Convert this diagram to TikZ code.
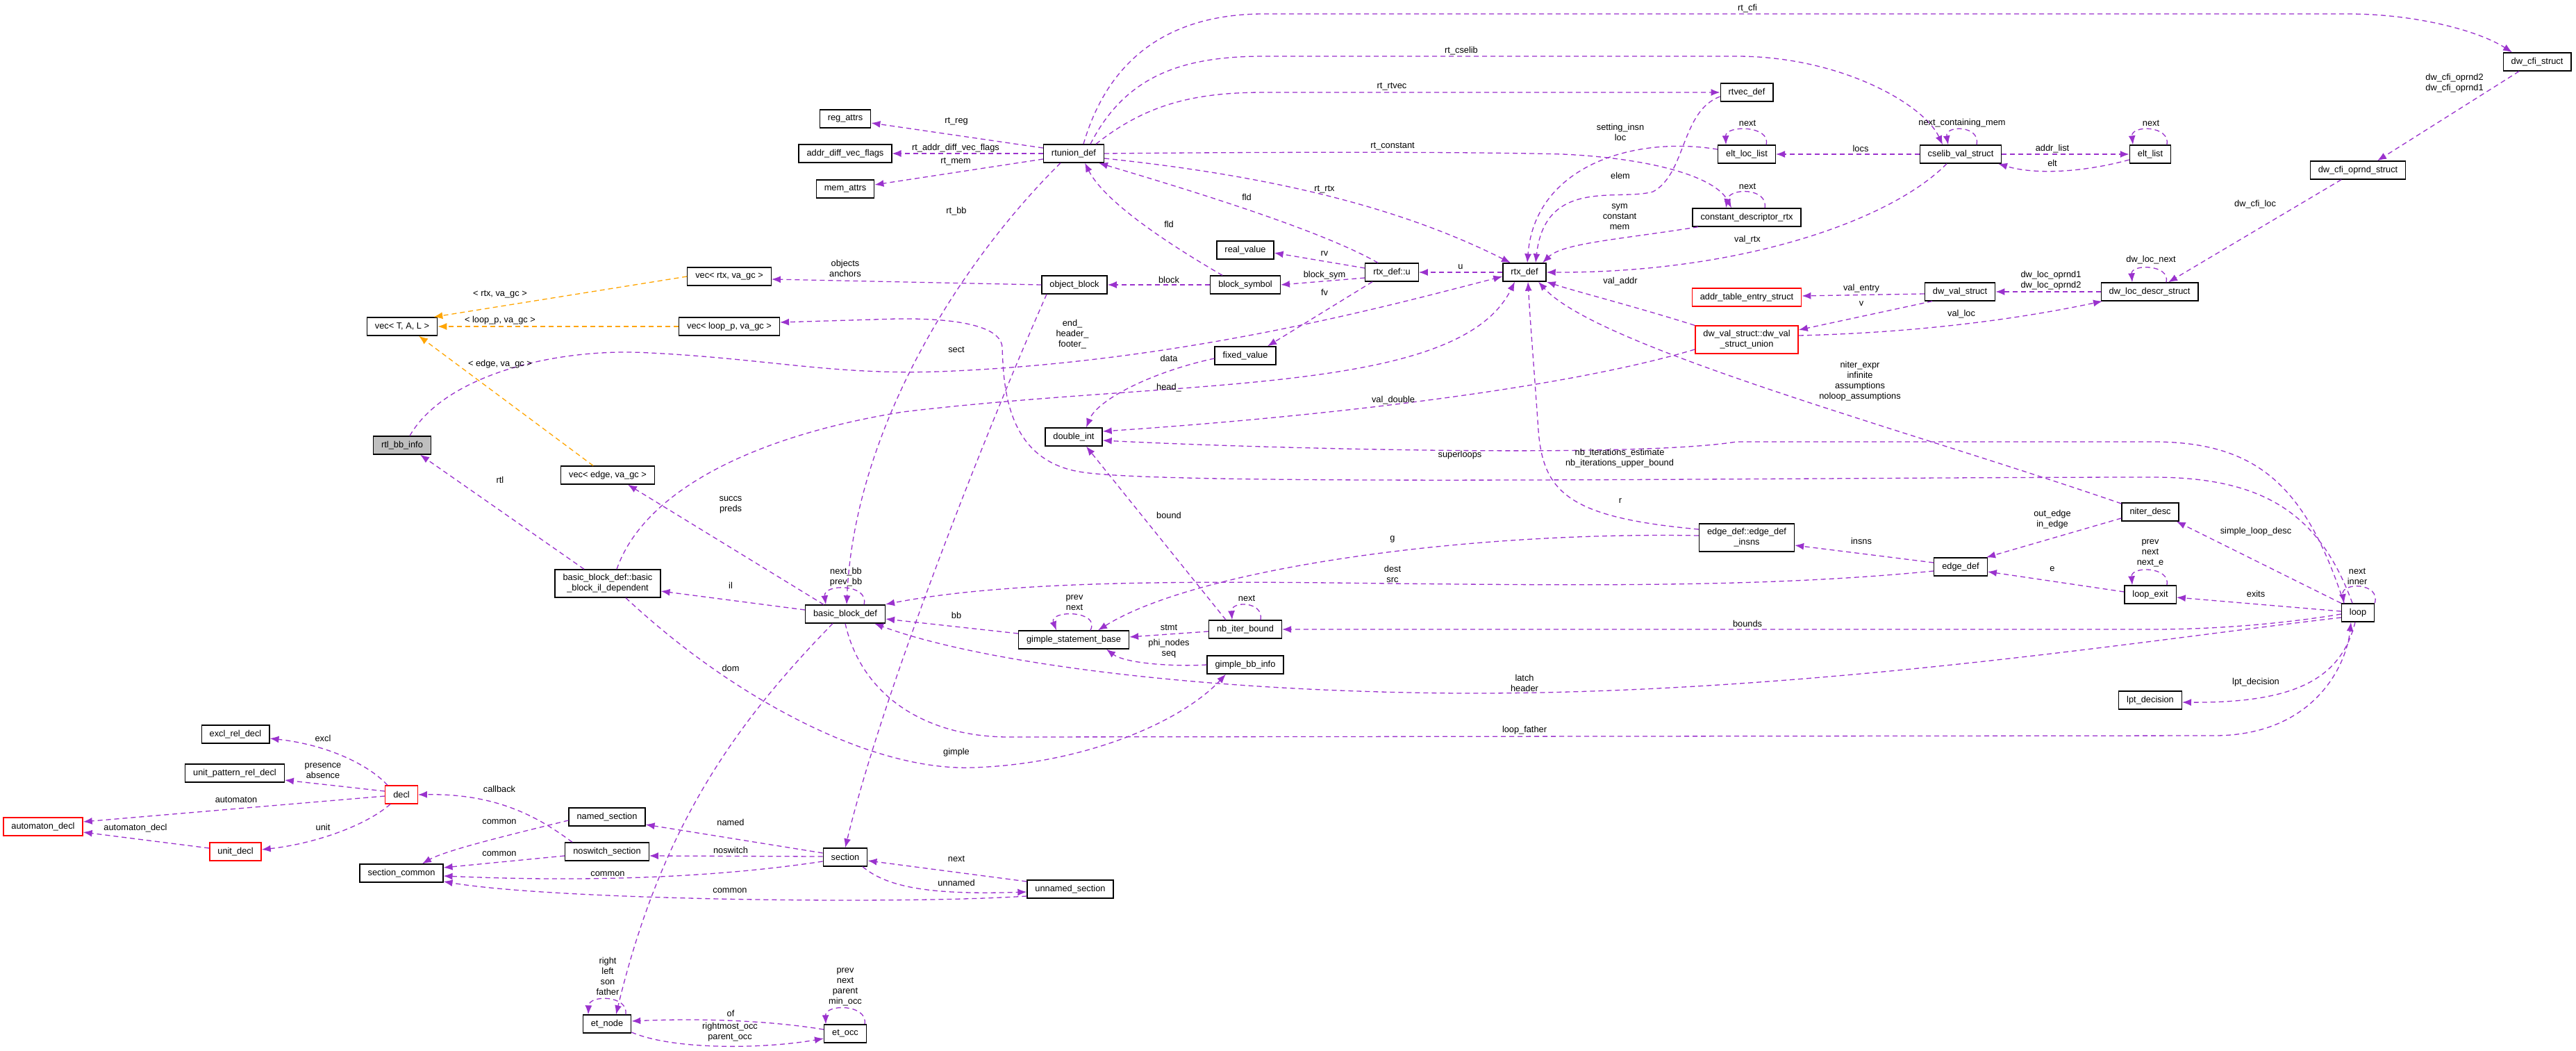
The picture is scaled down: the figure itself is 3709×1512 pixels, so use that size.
\documentclass[tikz,border=0pt]{standalone}
\usepackage{fontspec}
\setmainfont{Liberation Sans}
\usepackage{tikz}
\usetikzlibrary{arrows.meta}
\definecolor{linkpurple}{HTML}{9A32CD}
\definecolor{tmplorange}{HTML}{FFA500}
\definecolor{docred}{HTML}{FF0000}
\definecolor{docgray}{HTML}{BFBFBF}

\begin{document}
\begin{tikzpicture}[
x=1pt, y=-1pt,
box/.style={draw=black, line width=1.3pt, fill=white, minimum height=26pt, inner xsep=11.5pt, inner ysep=2pt, align=center, font=\fontsize{12.8}{15}\selectfont},
redbox/.style={box, draw=docred},
lbl/.style={inner sep=0pt, align=center, font=\fontsize{12.8}{15}\selectfont},
link/.style={-{Latex[length=13pt,width=10pt]}, line width=1.3pt, linkpurple, dash pattern=on 7pt off 5pt},
tmpl/.style={link, tmplorange}
]
\fill[white] (0,0) rectangle (3709,1512);
\useasboundingbox (0,0) rectangle (3709,1512);

\node[redbox] (autodecl) at (62,1190) {automaton\_decl};
\node[box] (exclrel) at (339,1057) {excl\_rel\_decl};
\node[box] (unitpat) at (338,1113) {unit\_pattern\_rel\_decl};
\node[redbox] (unitdecl) at (339,1226) {unit\_decl};
\node[redbox] (decl) at (578,1144) {decl};
\node[box] (seccommon) at (578,1257) {section\_common};
\node[box] (vectal) at (579,470) {vec< T, A, L >};
\node[box, fill=docgray] (rtlbb) at (579,641) {rtl\_bb\_info};
\node[box] (vecedge) at (875,684) {vec< edge, va\_gc >};
\node[box, minimum height=40pt] (bbil) at (875,840) {basic\_block\_def::basic\\\_block\_il\_dependent};
\node[box] (namedsec) at (874,1176) {named\_section};
\node[box] (noswitch) at (874,1226) {noswitch\_section};
\node[box] (etnode) at (874,1474) {et\_node};
\node[box] (vecrtx) at (1050,398) {vec< rtx, va\_gc >};
\node[box] (veclp) at (1050,470) {vec< loop\_p, va\_gc >};
\node[box] (regattrs) at (1217,171) {reg\_attrs};
\node[box] (addrdiff) at (1217,221) {addr\_diff\_vec\_flags};
\node[box] (memattrs) at (1217,272) {mem\_attrs};
\node[box] (bbdef) at (1217,884) {basic\_block\_def};
\node[box] (section) at (1217,1234) {section};
\node[box] (etocc) at (1217,1488) {et\_occ};
\node[box] (rtunion) at (1546,221) {rtunion\_def};
\node[box] (objblock) at (1547,410) {object\_block};
\node[box] (doubleint) at (1546,629) {double\_int};
\node[box] (gsbase) at (1546,921) {gimple\_statement\_base};
\node[box] (unnamed) at (1541,1280) {unnamed\_section};
\node[box] (realval) at (1793,360) {real\_value};
\node[box] (blocksym) at (1793,410) {block\_symbol};
\node[box] (fixedval) at (1793,512) {fixed\_value};
\node[box] (nbiter) at (1793,906) {nb\_iter\_bound};
\node[box] (gbbinfo) at (1793,957) {gimple\_bb\_info};
\node[box] (rtxu) at (2004,392) {rtx\_def::u};
\node[box] (rtxdef) at (2195,392) {rtx\_def};
\node[box] (rtvec) at (2515,133) {rtvec\_def};
\node[box] (eltloc) at (2515,222) {elt\_loc\_list};
\node[box] (constdesc) at (2515,313) {constant\_descriptor\_rtx};
\node[redbox] (addrtab) at (2515,428) {addr\_table\_entry\_struct};
\node[redbox, minimum height=40pt] (dwunion) at (2515,489) {dw\_val\_struct::dw\_val\\\_struct\_union};
\node[box, minimum height=40pt] (edgeinsns) at (2515,774) {edge\_def::edge\_def\\\_insns};
\node[box] (cselib) at (2823,222) {cselib\_val\_struct};
\node[box] (dwval) at (2822,420) {dw\_val\_struct};
\node[box] (edgedef) at (2823,816) {edge\_def};
\node[box] (eltlist) at (3096,222) {elt\_list};
\node[box] (dwloc) at (3095,420) {dw\_loc\_descr\_struct};
\node[box] (niter) at (3096,737) {niter\_desc};
\node[box] (loopexit) at (3096,856) {loop\_exit};
\node[box] (lpt) at (3096,1008) {lpt\_decision};
\node[box] (oprnd) at (3395,245) {dw\_cfi\_oprnd\_struct};
\node[box] (loop) at (3395,882) {loop};
\node[box] (cfi) at (3653,89) {dw\_cfi\_struct};

\draw[link] ([yshift=8pt]rtunion.west) -- ([yshift=-6pt]regattrs.east);
\draw[link] (rtunion.west) -- (addrdiff.east);
\draw[link] ([yshift=-8pt]rtunion.west) -- ([yshift=6pt]memattrs.east);
\draw[link] ([xshift=14pt]rtunion.north) .. controls (1600,70) and (1700,20) .. (1820,20) -- (3380,20) .. controls (3480,20) and (3570,45) .. ([xshift=-36pt]cfi.north);
\draw[link] ([xshift=24pt]rtunion.north) .. controls (1620,110) and (1700,81) .. (1820,81) -- (2500,81) .. controls (2650,81) and (2770,150) .. ([xshift=-26pt]cselib.north);
\draw[link] ([xshift=32pt]rtunion.north) .. controls (1650,150) and (1720,133) .. (1820,133) -- (rtvec.west);
\draw[link] (rtunion.east) .. controls (1800,219) and (2100,218) .. (2250,222) .. controls (2380,228) and (2470,255) .. ([xshift=-22pt]constdesc.north);
\draw[link] ([yshift=-7pt]rtunion.east) .. controls (1800,250) and (2000,290) .. ([xshift=-20pt]rtxdef.north);
\draw[link] ([xshift=-20pt]rtxu.north) .. controls (1900,330) and (1700,270) .. ([xshift=36pt]rtunion.south);
\draw[link] ([xshift=-33pt]blocksym.north) .. controls (1680,350) and (1590,290) .. ([xshift=16pt]rtunion.south);
\draw[link] ([xshift=-19pt]rtunion.south) .. controls (1380,380) and (1230,620) .. ([xshift=2pt]bbdef.north);
\draw[link] (rtxdef.west) -- (rtxu.east);
\draw[link] ([yshift=6pt]rtxu.west) -- ([yshift=-4pt]realval.east);
\draw[link] ([yshift=-8pt]rtxu.west) -- (blocksym.east);
\draw[link] ([xshift=-28pt]rtxu.south) -- ([xshift=32pt]fixedval.north);
\draw[link] (blocksym.west) -- (objblock.east);
\draw[link] (objblock.west) -- ([yshift=-4pt]vecrtx.east);
\draw[link] ([xshift=-40pt]objblock.south) .. controls (1420,620) and (1270,1000) .. (section.north);
\draw[tmpl] (vecrtx.west) -- ([xshift=-6pt]vectal.north east);
\draw[tmpl] (veclp.west) -- (vectal.east);
\draw[tmpl] ([xshift=-21pt]vecedge.north) -- ([xshift=24pt]vectal.south);

\draw[link] ([xshift=-8pt]loop.north) .. controls (3340,740) and (3260,687) .. (3100,687) .. controls (2600,687) and (1700,700) .. (1560,680) .. controls (1450,665) and (1445,560) .. (1443,500) .. controls (1441,465) and (1360,458) .. (1290,459) -- ([yshift=6pt]veclp.east);
\draw[link] ([xshift=-20pt]loop.north) .. controls (3320,700) and (3250,636) .. (3100,636) -- (2500,636) .. controls (2350,660) and (1800,645) .. ([yshift=-5pt]doubleint.east);
\draw[link] ([yshift=-14pt]dwunion.west) .. controls (2250,560) and (1900,600) .. ([yshift=8pt]doubleint.east);
\draw[link] ([yshift=-4pt]fixedval.west) .. controls (1660,535) and (1580,575) .. ([xshift=18pt]doubleint.north);
\draw[link] ([xshift=-28pt]nbiter.north) -- ([xshift=18pt]doubleint.south);
\draw[link] ([xshift=22pt]nbiter.north) .. controls (1820,865) and (1772,865) .. ([xshift=-19pt]nbiter.north);
\draw[link] ([yshift=-3pt]nbiter.west) -- ([yshift=4pt]gsbase.east);
\draw[link] (gbbinfo.west) .. controls (1690,960) and (1620,955) .. ([xshift=47pt]gsbase.south);
\draw[link] ([xshift=24pt]gsbase.north) .. controls (1585,878) and (1510,878) .. ([xshift=-25pt]gsbase.north);
\draw[link] ([yshift=3pt]edgeinsns.west) .. controls (2100,765) and (1720,820) .. ([xshift=35pt]gsbase.north);
\draw[link] ([yshift=-6pt]edgedef.west) .. controls (2550,845) and (2300,843) .. (2000,840) .. controls (1700,836) and (1450,836) .. ([yshift=14pt]bbdef.east);
\draw[link] ([yshift=9pt]gsbase.west) -- ([yshift=-7pt]bbdef.east);
\draw[link] ([yshift=-7pt]loop.west) .. controls (3100,920) and (2600,1000) .. (2100,998) .. controls (1700,995) and (1400,950) .. ([xshift=42pt]bbdef.south);
\draw[link] ([yshift=-2pt]loop.west) .. controls (3300,896) and (3200,906) .. (3100,906) -- (nbiter.east);
\draw[link] (bbdef.south) .. controls (1240,1000) and (1330,1060) .. (1450,1061) -- (3190,1059) .. controls (3330,1058) and (3378,960) .. ([xshift=-10pt]loop.south);
\draw[link] ([xshift=-4pt]loop.south) .. controls (3370,980) and (3300,1012) .. ([yshift=-3pt]lpt.east);
\draw[link] ([yshift=2pt]loop.west) -- ([yshift=-4pt]loopexit.east);
\draw[link] (loop.north west) -- ([xshift=-4pt]niter.south east);
\draw[link] (loop.north east) .. controls (3428,838) and (3370,838) .. ([xshift=-20pt]loop.north);
\draw[link] ([xshift=24pt]loopexit.north) .. controls (3125,815) and (3068,815) .. ([xshift=-26pt]loopexit.north);
\draw[link] ([yshift=-9pt]niter.west) -- ([xshift=37pt]edgedef.north);
\draw[link] ([yshift=12pt]niter.west) .. controls (2750,620) and (2300,500) .. ([xshift=20pt]rtxdef.south);
\draw[link] ([yshift=6pt]edgedef.west) -- ([yshift=-11pt]edgeinsns.east);
\draw[link] ([yshift=4pt]loopexit.west) -- ([yshift=-7pt]edgedef.east);
\draw[link] ([yshift=12pt]edgeinsns.west) .. controls (2260,745) and (2222,710) .. (2215,620) .. controls (2208,520) and (2203,460) .. ([xshift=5pt]rtxdef.south);

\draw[link] ([xshift=11pt]rtlbb.north) .. controls (640,540) and (800,500) .. (935,508) .. controls (1100,516) and (1200,540) .. (1350,535) .. controls (1700,522) and (2000,440) .. ([yshift=-6pt]rtxdef.west);
\draw[link] ([xshift=13pt]bbil.north) .. controls (930,700) and (1100,625) .. (1300,593) .. controls (1700,545) and (2100,570) .. ([xshift=-14pt]rtxdef.south);
\draw[link] ([xshift=-34pt]bbil.north) -- ([xshift=26pt]rtlbb.south);
\draw[link] ([yshift=6pt]bbdef.west) -- ([yshift=-11pt]bbil.east);
\draw[link] ([xshift=-31pt]bbdef.north) -- ([xshift=29pt]vecedge.south);
\draw[link] ([xshift=27pt]bbdef.north) .. controls (1252,840) and (1185,840) .. ([xshift=-28pt]bbdef.north);
\draw[link] ([xshift=-18pt]bbdef.south) .. controls (1050,1050) and (950,1200) .. ([xshift=13pt]etnode.north);
\draw[link] ([xshift=26pt]bbil.south) .. controls (1050,1000) and (1250,1110) .. (1400,1105) .. controls (1560,1100) and (1700,1040) .. ([xshift=-28pt]gbbinfo.south);

\draw[link] ([xshift=-20pt]cselib.south) .. controls (2720,320) and (2500,393) .. (rtxdef.east);
\draw[link] ([xshift=-70pt]constdesc.south) .. controls (2330,345) and (2250,350) .. ([xshift=26pt]rtxdef.north);
\draw[link] ([xshift=26pt]constdesc.north) .. controls (2546,270) and (2490,270) .. ([xshift=-30pt]constdesc.north);
\draw[link] ([yshift=-6pt]rtvec.west) .. controls (2420,160) and (2428,250) .. (2380,276) .. controls (2330,290) and (2225,255) .. ([xshift=16pt]rtxdef.north);
\draw[link] ([yshift=7pt]eltloc.west) .. controls (2350,195) and (2210,240) .. ([xshift=4pt]rtxdef.north);
\draw[link] ([xshift=28pt]eltloc.north) .. controls (2550,180) and (2484,180) .. ([xshift=-30pt]eltloc.north);
\draw[link] (cselib.west) -- (eltloc.east);
\draw[link] ([xshift=23pt]cselib.north) .. controls (2852,180) and (2800,180) .. ([xshift=-18pt]cselib.north);
\draw[link] (cselib.east) -- (eltlist.west);
\draw[link] ([yshift=-8pt]eltlist.west) .. controls (3000,248) and (2930,252) .. ([xshift=54pt]cselib.south);
\draw[link] ([xshift=24pt]eltlist.north) .. controls (3125,180) and (3068,180) .. ([xshift=-25pt]eltlist.north);
\draw[link] ([xshift=-75pt]dwunion.north) .. controls (2350,440) and (2270,420) .. (rtxdef.south east);
\draw[link] ([yshift=-3pt]dwval.west) -- ([yshift=2pt]addrtab.east);
\draw[link] ([xshift=-40pt]dwval.south) -- ([yshift=14pt]dwunion.east);
\draw[link] ([yshift=6pt]dwunion.east) .. controls (2800,478) and (2950,450) .. ([xshift=-68pt]dwloc.south);
\draw[link] (dwloc.west) -- (dwval.east);
\draw[link] ([xshift=24pt]dwloc.north) .. controls (3125,380) and (3068,380) .. ([xshift=-25pt]dwloc.north);
\draw[link] ([xshift=-24pt]oprnd.south) -- ([xshift=27pt]dwloc.north);
\draw[link] ([xshift=-26pt]cfi.south) -- ([xshift=28pt]oprnd.north);

\draw[link] ([xshift=-20pt]decl.north) .. controls (530,1100) and (470,1072) .. ([yshift=-6pt]exclrel.east);
\draw[link] ([yshift=5pt]decl.west) -- ([yshift=-10pt]unitpat.east);
\draw[link] ([yshift=-2pt]decl.west) -- ([yshift=7pt]autodecl.east);
\draw[link] ([xshift=-16pt]decl.south) .. controls (525,1190) and (450,1215) .. ([yshift=3pt]unitdecl.east);
\draw[link] ([yshift=5pt]unitdecl.west) -- ([yshift=-8pt]autodecl.east);
\draw[link] ([xshift=-50pt]noswitch.north) .. controls (780,1180) and (720,1142) .. (decl.east);
\draw[link] ([yshift=-5pt]namedsec.west) .. controls (720,1205) and (640,1225) .. ([xshift=30pt]seccommon.north);
\draw[link] ([yshift=-6pt]noswitch.west) -- ([yshift=8pt]seccommon.east);
\draw[link] ([yshift=-6pt]section.west) .. controls (1000,1268) and (800,1268) .. ([yshift=-4pt]seccommon.east);
\draw[link] ([yshift=-10pt]unnamed.west) .. controls (1300,1302) and (800,1296) .. ([yshift=-12pt]seccommon.east);
\draw[link] ([yshift=6pt]section.west) -- ([yshift=-11pt]namedsec.east);
\draw[link] ([yshift=1pt]section.west) -- ([yshift=-6pt]noswitch.east);
\draw[link] ([yshift=11pt]unnamed.west) -- ([yshift=-5pt]section.east);
\draw[link] ([xshift=25pt]section.south) .. controls (1280,1280) and (1350,1288) .. ([yshift=-4pt]unnamed.west);
\draw[link] ([xshift=27pt]etnode.north) .. controls (905,1432) and (848,1432) .. ([xshift=-27pt]etnode.north);
\draw[link] ([xshift=28pt]etocc.north) .. controls (1250,1445) and (1188,1445) .. ([xshift=-28pt]etocc.north);
\draw[link] ([yshift=6pt]etocc.west) .. controls (1100,1468) and (1000,1466) .. ([yshift=4pt]etnode.east);
\draw[link] ([yshift=-12pt]etnode.east) .. controls (970,1512) and (1100,1510) .. ([yshift=-7pt]etocc.west);

\node[lbl] (lrtreg) at (1377,175) {rt\_reg};
\node[lbl] (lrtaddr) at (1376,213) {rt\_addr\_diff\_vec\_flags};
\node[lbl] (lrtmem) at (1376,233) {rt\_mem};
\node[lbl] (lrtcfi) at (2516,12) {rt\_cfi};
\node[lbl] (lrtcselib) at (2104,73) {rt\_cselib};
\node[lbl] (lrtrtvec) at (2004,125) {rt\_rtvec};
\node[lbl] (lrtconst) at (2005,211) {rt\_constant};
\node[lbl] (lrtrtx) at (1907,273) {rt\_rtx};
\node[lbl] (lfldu) at (1795,284) {fld};
\node[lbl] (lfldsym) at (1683,323) {fld};
\node[lbl] (lrtbb) at (1377,304) {rt\_bb};
\node[lbl] (lrv) at (1907,365) {rv};
\node[lbl] (lu) at (2103,384) {u};
\node[lbl] (lblocksym) at (1907,396) {block\_sym};
\node[lbl] (lblock) at (1683,403) {block};
\node[lbl] (lfv) at (1907,421) {fv};
\node[lbl] (lobjects) at (1217,386) {objects\\anchors};
\node[lbl] (lvrtx) at (720,424) {< rtx, va\_gc >};
\node[lbl] (lvlp) at (720,461) {< loop\_p, va\_gc >};
\node[lbl] (lvedge) at (720,524) {< edge, va\_gc >};
\node[lbl] (lsetting) at (2333,190) {setting\_insn\\loc};
\node[lbl] (lnexteltloc) at (2516,177) {next};
\node[lbl] (lnextmem) at (2825,177) {next\_containing\_mem};
\node[lbl] (llocs) at (2679,214) {locs};
\node[lbl] (laddrlist) at (2955,214) {addr\_list};
\node[lbl] (lelt) at (2955,235) {elt};
\node[lbl] (lnexteltlist) at (3097,177) {next};
\node[lbl] (lelem) at (2333,253) {elem};
\node[lbl] (lnextconst) at (2516,268) {next};
\node[lbl] (lsym) at (2332,312) {sym\\constant\\mem};
\node[lbl] (lvalrtx) at (2516,345) {val\_rtx};
\node[lbl] (lvaladdr) at (2333,405) {val\_addr};
\node[lbl] (lvalentry) at (2680,415) {val\_entry};
\node[lbl] (lv) at (2680,437) {v};
\node[lbl] (loprnd) at (2953,404) {dw\_loc\_oprnd1\\dw\_loc\_oprnd2};
\node[lbl] (lvalloc) at (2824,452) {val\_loc};
\node[lbl] (llocnext) at (3097,374) {dw\_loc\_next};
\node[lbl] (lcfioprnd) at (3534,120) {dw\_cfi\_oprnd2\\dw\_cfi\_oprnd1};
\node[lbl] (lcfiloc) at (3247,294) {dw\_cfi\_loc};
\node[lbl] (lniter) at (2678,549) {niter\_expr\\infinite\\assumptions\\noloop\_assumptions};
\node[lbl] (lnbiter) at (2332,660) {nb\_iterations\_estimate\\nb\_iterations\_upper\_bound};
\node[lbl] (lr) at (2333,721) {r};
\node[lbl] (loutedge) at (2955,748) {out\_edge\\in\_edge};
\node[lbl] (linsns) at (2680,779) {insns};
\node[lbl] (le) at (2955,819) {e};
\node[lbl] (lbounds) at (2516,898) {bounds};
\node[lbl] (lsimple) at (3248,765) {simple\_loop\_desc};
\node[lbl] (lnextexit) at (3096,796) {prev\\next\\next\_e};
\node[lbl] (lexits) at (3248,855) {exits};
\node[lbl] (lnextloop) at (3394,830) {next\\inner};
\node[lbl] (llpt) at (3248,982) {lpt\_decision};
\node[lbl] (lrtl) at (720,691) {rtl};
\node[lbl] (lsuccs) at (1052,727) {succs\\preds};
\node[lbl] (lnextbb) at (1218,831) {next\_bb\\prev\_bb};
\node[lbl] (lil) at (1052,843) {il};
\node[lbl] (ldom) at (1052,962) {dom};
\node[lbl] (lend) at (1544,481) {end\_\\header\_\\footer\_};
\node[lbl] (lsect) at (1377,503) {sect};
\node[lbl] (ldata) at (1683,516) {data};
\node[lbl] (lhead) at (1683,558) {head\_};
\node[lbl] (lvaldouble) at (2006,576) {val\_double};
\node[lbl] (lsuperloops) at (2102,655) {superloops};
\node[lbl] (lbound) at (1683,742) {bound};
\node[lbl] (lg) at (2005,776) {g};
\node[lbl] (ldest) at (2005,826) {dest\\src};
\node[lbl] (lprevgs) at (1547,868) {prev\\next};
\node[lbl] (lnextnb) at (1795,861) {next};
\node[lbl] (lbb) at (1377,886) {bb};
\node[lbl] (lstmt) at (1683,903) {stmt};
\node[lbl] (lphi) at (1683,934) {phi\_nodes\\seq};
\node[lbl] (llatch) at (2195,983) {latch\\header};
\node[lbl] (lloopfather) at (2195,1051) {loop\_father};
\node[lbl] (lexcl) at (465,1063) {excl};
\node[lbl] (lpresence) at (465,1110) {presence\\absence};
\node[lbl] (lautomaton) at (340,1151) {automaton};
\node[lbl] (lcallback) at (719,1136) {callback};
\node[lbl] (lautodecl) at (195,1192) {automaton\_decl};
\node[lbl] (lunit) at (465,1191) {unit};
\node[lbl] (lcommonnamed) at (719,1183) {common};
\node[lbl] (lcommonnosw) at (719,1229) {common};
\node[lbl] (lcommonsec) at (875,1258) {common};
\node[lbl] (lcommonunn) at (1051,1282) {common};
\node[lbl] (lnamed) at (1052,1184) {named};
\node[lbl] (lnoswitch) at (1052,1224) {noswitch};
\node[lbl] (lnextsec) at (1377,1236) {next};
\node[lbl] (lunnamed) at (1377,1271) {unnamed};
\node[lbl] (lgimple) at (1377,1083) {gimple};
\node[lbl] (lright) at (875,1405) {right\\left\\son\\father};
\node[lbl] (lprevocc) at (1217,1421) {prev\\next\\parent\\min\_occ};
\node[lbl] (lof) at (1052,1459) {of};
\node[lbl] (lrightmost) at (1051,1486) {rightmost\_occ\\parent\_occ};
\end{tikzpicture}
\end{document}
